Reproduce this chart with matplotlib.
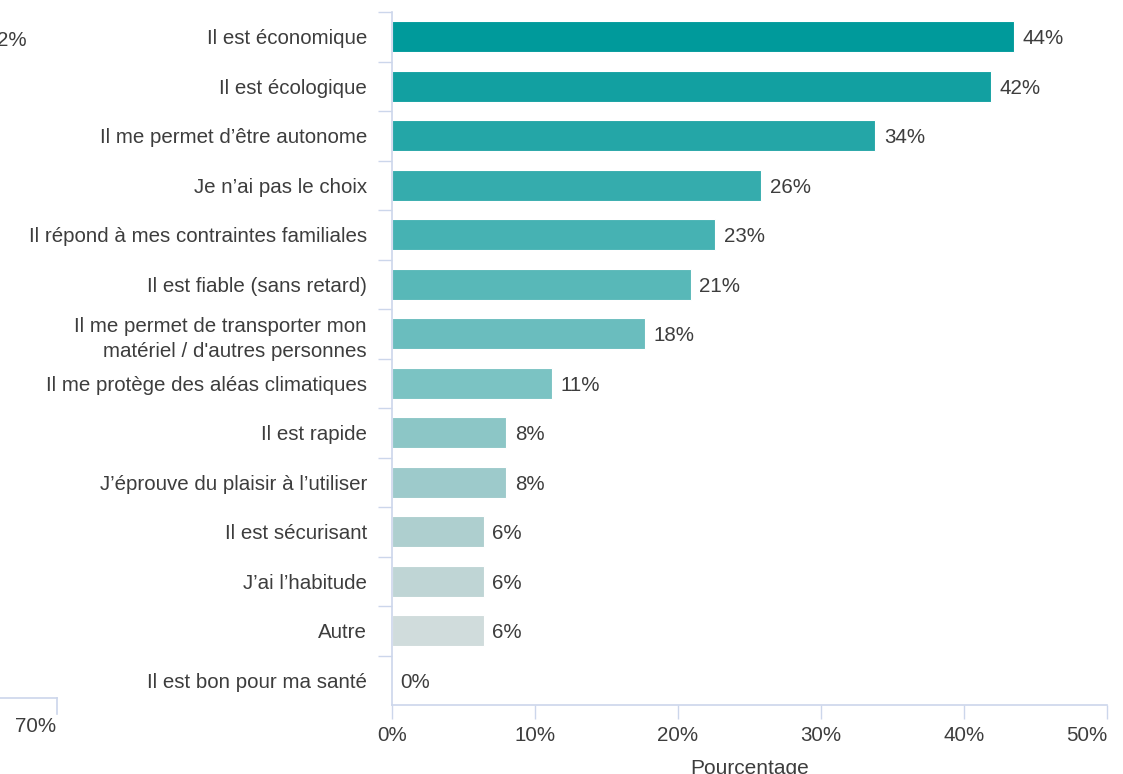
import matplotlib.pyplot as plt
from matplotlib.lines import Line2D

plt.rcParams["font.family"] = ["Liberation Sans", "DejaVu Sans"]

categories = [
    "Il est économique",
    "Il est écologique",
    "Il me permet d\u2019être autonome",
    "Je n\u2019ai pas le choix",
    "Il répond à mes contraintes familiales",
    "Il est fiable (sans retard)",
    "Il me permet de transporter mon\nmatériel / d'autres personnes",
    "Il me protège des aléas climatiques",
    "Il est rapide",
    "J\u2019éprouve du plaisir à l\u2019utiliser",
    "Il est sécurisant",
    "J\u2019ai l\u2019habitude",
    "Autre",
    "Il est bon pour ma santé",
]
values = [43.5, 41.9, 33.8, 25.8, 22.6, 20.9, 17.7, 11.2, 8.0, 8.0, 6.4, 6.4, 6.4, 0.0]
bar_colors = ["#009a9b", "#12a0a1", "#24a6a7", "#35acad", "#46b2b3", "#58b8b8",
              "#6abdbe", "#7bc3c3", "#8cc6c6", "#9dcacb", "#aecfcf", "#bfd5d5",
              "#d0dcdc", "#e0e6e6"]
xticks = [0, 10, 20, 30, 40, 50]

AXIS = "#ccd6eb"
TEXT = "#3d3d3d"
FS = 14.8

fig = plt.figure(figsize=(11.23, 7.74), dpi=100)
ax = fig.add_axes([392 / 1123, 1 - 705 / 774, 715 / 1123, 693 / 774])

ypos = list(range(len(categories)))
ax.barh(ypos, values, height=0.62, color=bar_colors, edgecolor="white", linewidth=0.8)
for y, v in zip(ypos, values):
    ax.text(v + 0.6, y + 0.04, f"{round(v):.0f}%", va="center", ha="left", fontsize=FS, color=TEXT)

ax.set_xlim(0, 50)
ax.set_ylim(len(categories) - 0.5, -0.5)
ax.set_xticks(xticks)
ax.set_xticklabels([f"{t}%" for t in xticks])
ax.get_xticklabels()[-1].set_horizontalalignment("right")
ax.set_yticks(ypos)
ax.set_yticklabels(categories, fontsize=FS, color=TEXT, linespacing=1.4)
ax.tick_params(axis="y", length=0, pad=18)
ax.set_yticks([y - 0.5 for y in ypos], minor=True)
ax.tick_params(axis="y", which="minor", length=10, color=AXIS, width=1)
ax.tick_params(axis="x", length=10, color=AXIS, width=1, labelsize=FS, labelcolor=TEXT, pad=5)
ax.set_xlabel("Pourcentage", fontsize=15, color=TEXT, labelpad=10)

for side in ("top", "right"):
    ax.spines[side].set_visible(False)
for side in ("left", "bottom"):
    ax.spines[side].set_color(AXIS)
    ax.spines[side].set_linewidth(1.2)

# remnants of a neighbouring chart cut off at the left edge
fig.text(-3 / 1123, 1 - 41 / 774, "2%", fontsize=FS, color=TEXT, va="center", ha="left")
fig.text(56 / 1123, 1 - 727 / 774, "70%", fontsize=FS, color=TEXT, va="center", ha="right")
fig.add_artist(Line2D([0, 57 / 1123], [1 - 698 / 774, 1 - 698 / 774], color=AXIS, lw=1.2))
fig.add_artist(Line2D([57 / 1123, 57 / 1123], [1 - 698 / 774, 1 - 714 / 774], color=AXIS, lw=1.2))

fig.savefig("out.png", dpi=100)
